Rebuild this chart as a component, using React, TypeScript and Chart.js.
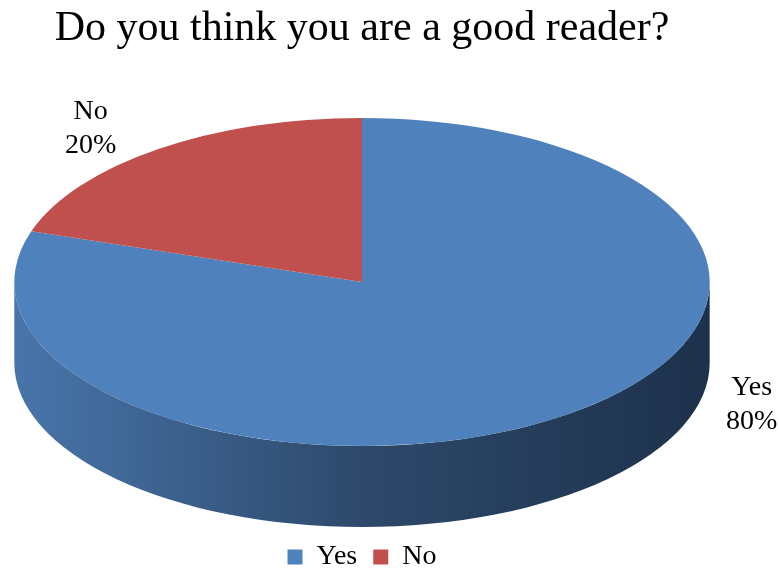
import React, { useEffect, useRef } from 'react';
import { Chart, registerables } from 'chart.js';

Chart.register(...registerables);

const chartTitle = 'Do you think you are a good reader?';
const categories = ['Yes', 'No'];
const values = [80, 20];
const sliceColors = ['#4F81BD', '#C0504D'];
const sideShades = [
  ['#4975AB', '#2D496B', '#1D314B'],
  ['#A84643', '#7A3331', '#4F2120'],
];

const SERIF = "'Liberation Serif', 'Times New Roman', serif";
const X_STRETCH = 2.12;
const DEPTH = 81;

const pie3d = {
  id: 'pie3d',
  beforeDatasetsDraw(chart: any) {
    const arcs = chart.getDatasetMeta(0).data;
    if (!arcs.length) return;
    const { x: cx, y: cy, outerRadius: r } = arcs[0].getProps(['x', 'y', 'outerRadius'], true);
    const ctx = chart.ctx;
    ctx.save();
    ctx.translate(cx, cy);
    ctx.scale(X_STRETCH, 1);
    ctx.translate(-cx, -cy);
    arcs.forEach((arc: any, i: number) => {
      const { startAngle, endAngle } = arc.getProps(['startAngle', 'endAngle'], true);
      const shades = sideShades[i % sideShades.length];
      for (const shift of [-2 * Math.PI, 0, 2 * Math.PI]) {
        const s = Math.max(startAngle + shift, 0);
        const e = Math.min(endAngle + shift, Math.PI);
        if (e <= s) continue;
        const g = ctx.createLinearGradient(cx - r, 0, cx + r, 0);
        g.addColorStop(0, shades[0]);
        g.addColorStop(0.5, shades[1]);
        g.addColorStop(1, shades[2]);
        ctx.beginPath();
        ctx.arc(cx, cy, r, s, e, false);
        ctx.arc(cx, cy + DEPTH, r, e, s, true);
        ctx.closePath();
        ctx.fillStyle = g;
        ctx.fill();
      }
    });
  },
  afterDatasetsDraw(chart: any) {
    const ctx = chart.ctx;
    ctx.restore();
    const arcs = chart.getDatasetMeta(0).data;
    if (!arcs.length) return;
    const total = values.reduce((a, b) => a + b, 0);
    ctx.save();
    ctx.fillStyle = '#000';
    ctx.font = `28px ${SERIF}`;
    ctx.textAlign = 'center';
    ctx.textBaseline = 'alphabetic';
    arcs.forEach((arc: any, i: number) => {
      const { x: cx, y: cy, outerRadius: r, startAngle, endAngle } = arc.getProps(
        ['x', 'y', 'outerRadius', 'startAngle', 'endAngle'], true);
      const mid = (startAngle + endAngle) / 2;
      const R = r * X_STRETCH;
      const ex = cx + R * Math.cos(mid);
      const ey = cy + r * Math.sin(mid);
      let lx: number, ly: number;
      if (Math.sin(mid) > 0) {
        lx = cx + Math.sign(Math.cos(mid)) * (R + 42);
        ly = ey - 10;
      } else {
        lx = ex + Math.sign(Math.cos(mid)) * 67;
        ly = ey - 20;
      }
      const pct = Math.round((values[i] / total) * 100) + '%';
      ctx.fillText(categories[i], lx, ly - 10);
      ctx.fillText(pct, lx, ly + 24);
    });
    ctx.restore();
  },
};

export default function App() {
  const ref = useRef<HTMLCanvasElement>(null);
  useEffect(() => {
    if (!ref.current) return;
    const chart = new Chart(ref.current, {
      type: 'pie',
      data: {
        labels: categories,
        datasets: [{ data: values, backgroundColor: sliceColors, borderWidth: 0 }],
      },
      options: {
        responsive: false,
        animation: false,
        layout: { padding: { left: 0, right: 55, top: 0, bottom: -10 } },
        plugins: {
          title: {
            display: true,
            text: chartTitle,
            color: '#000',
            font: { family: SERIF, size: 42, weight: 'normal' },
            padding: { top: 4, bottom: 63.6 },
          },
          legend: {
            position: 'bottom',
            labels: {
              boxWidth: 15,
              boxHeight: 15,
              padding: 16,
              color: '#000',
              font: { family: SERIF, size: 28 },
            },
            title: { display: true, text: ' ', padding: { top: 69, bottom: 0 }, font: { size: 10 } },
          },
          tooltip: { enabled: false },
        },
      },
      plugins: [pie3d],
    } as any);
    return () => chart.destroy();
  }, []);
  return (
    <div style={{ position: 'absolute', left: 0, top: 0, width: 779, height: 571, background: '#fff' }}>
      <canvas ref={ref} width={779} height={571} />
    </div>
  );
}
